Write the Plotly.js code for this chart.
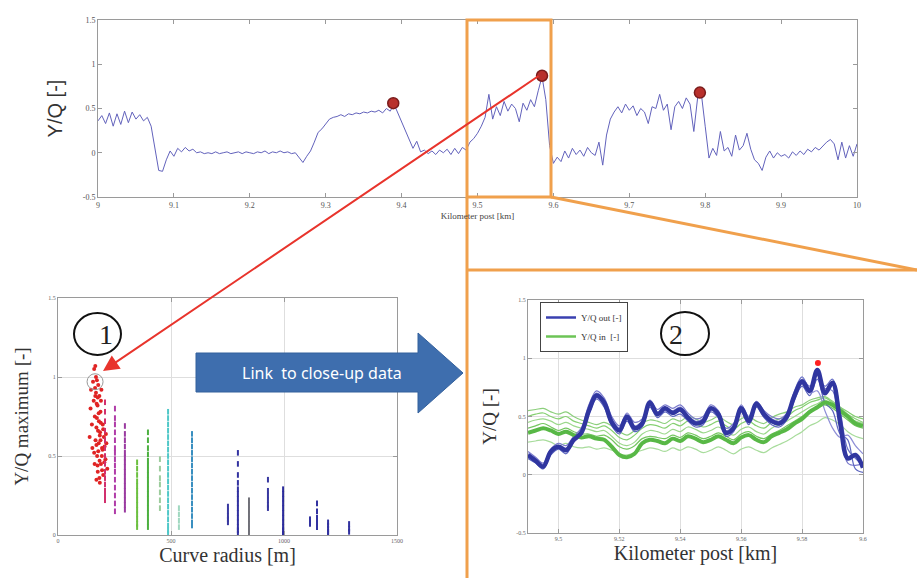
<!DOCTYPE html>
<html><head><meta charset="utf-8">
<script src="https://cdn.plot.ly/plotly-3.0.1.min.js"></script>
<style>html,body{margin:0;padding:0;background:#fff;}#chart{width:917px;height:578px;}</style>
</head><body><div id="chart"></div>
<script>
// ---------- DATA ----------
// Top panel: Y/Q along track
const topKm = [9.000,9.005,9.010,9.015,9.020,9.025,9.030,9.035,9.040,9.045,9.050,9.055,9.060,9.065,9.070,9.075,9.080,9.085,9.090,9.095,
9.100,9.105,9.110,9.115,9.120,9.125,9.130,9.135,9.140,9.145,9.150,9.155,9.160,9.165,9.170,9.175,9.180,9.185,9.190,9.195,
9.200,9.205,9.210,9.215,9.220,9.225,9.230,9.235,9.240,9.245,9.250,9.255,9.260,9.265,9.270,9.275,9.280,9.285,9.290,9.295,
9.300,9.305,9.310,9.315,9.320,9.325,9.330,9.335,9.340,9.345,9.350,9.355,9.360,9.365,9.370,9.375,9.380,9.385,9.390,9.395,
9.400,9.405,9.410,9.415,9.420,9.425,9.430,9.435,9.440,9.445,9.450,9.455,9.460,9.465,9.470,9.475,9.480,9.485,9.490,9.495,
9.500,9.505,9.510,9.515,9.520,9.525,9.530,9.535,9.540,9.545,9.550,9.555,9.560,9.565,9.570,9.575,9.580,9.585,9.590,9.595,
9.600,9.605,9.610,9.615,9.620,9.625,9.630,9.635,9.640,9.645,9.650,9.655,9.660,9.665,9.670,9.675,9.680,9.685,9.690,9.695,
9.700,9.705,9.710,9.715,9.720,9.725,9.730,9.735,9.740,9.745,9.750,9.755,9.760,9.765,9.770,9.775,9.780,9.785,9.790,9.795,
9.800,9.805,9.810,9.815,9.820,9.825,9.830,9.835,9.840,9.845,9.850,9.855,9.860,9.865,9.870,9.875,9.880,9.885,9.890,9.895,
9.900,9.905,9.910,9.915,9.920,9.925,9.930,9.935,9.940,9.945,9.950,9.955,9.960,9.965,9.970,9.975,9.980,9.985,9.990,9.995,10.000];
const topYQ = [0.36,0.42,0.33,0.45,0.30,0.44,0.32,0.47,0.34,0.46,0.38,0.43,0.36,0.40,0.30,0.05,-0.20,-0.21,-0.08,0.02,
-0.04,0.05,0.01,0.06,0.02,0.04,0.00,0.01,-0.01,0.00,-0.01,0.01,-0.01,0.00,0.01,-0.01,0.00,0.01,-0.01,0.01,
0.00,-0.01,0.01,0.00,0.02,-0.01,0.01,0.00,0.02,0.00,0.01,-0.01,0.00,-0.05,-0.11,-0.04,0.02,0.12,0.23,0.27,
0.33,0.38,0.40,0.41,0.43,0.41,0.44,0.43,0.45,0.44,0.46,0.45,0.47,0.46,0.48,0.45,0.50,0.47,0.55,0.45,
0.35,0.24,0.15,0.05,0.13,0.01,0.03,-0.01,0.02,-0.02,0.03,0.00,0.04,-0.02,0.05,-0.01,0.06,0.03,0.12,0.16,
0.22,0.30,0.40,0.66,0.38,0.52,0.42,0.58,0.47,0.55,0.50,0.35,0.56,0.48,0.60,0.52,0.70,0.86,0.60,0.08,
-0.12,-0.05,-0.10,0.02,-0.06,0.05,-0.02,0.03,-0.04,0.06,0.00,-0.03,0.12,-0.14,0.20,0.38,0.46,0.52,0.45,0.55,
0.48,0.53,0.42,0.50,0.46,0.33,0.52,0.50,0.66,0.48,0.55,0.26,0.52,0.58,0.50,0.62,0.55,0.24,0.62,0.66,
0.30,-0.06,0.05,-0.03,0.24,0.02,0.06,-0.04,0.20,0.03,0.08,0.22,0.04,-0.08,-0.12,-0.20,-0.05,0.02,-0.06,0.00,
-0.04,-0.02,-0.06,0.01,-0.03,0.02,-0.02,0.04,0.01,0.06,0.03,0.08,0.12,0.15,0.10,-0.08,0.12,-0.06,0.08,-0.04,0.10];
const topPeakKm = [9.389, 9.585, 9.793];
const topPeakYQ = [0.56, 0.87, 0.68];

// Bottom-left: Y/Q maximum vs curve radius
const redR = [140,144,146,150,152,155,158,160,162,163,165,166,168,170,170,172,173,175,176,178,180,181,183,185,186,188,190,192,195,198,200,203,206,210,214,218,160,165,170,175,180,185,190,195,200,168,172,178,184,188,194,164,171,177,183,189,197,205,212,176];
const redY = [0.62,0.80,0.92,0.70,0.55,0.97,0.85,1.05,0.45,0.75,1.07,0.60,0.90,0.35,0.68,0.98,0.50,0.82,0.40,0.95,0.58,0.72,0.88,0.33,0.65,0.78,0.45,0.92,0.55,0.70,0.38,0.62,0.56,0.48,0.58,0.42,0.52,0.88,0.57,0.44,0.77,0.63,0.85,0.41,0.67,1.00,0.74,0.53,0.47,0.60,0.50,0.93,0.83,0.66,0.36,0.71,0.54,0.46,0.64,0.87];
const stripR = [208,252,296,350,398,451,487,535,593,752,796,845,929,996,1115,1146,1195,1288];
const stripY = [
 [0.84,0.78,0.72,0.66,0.60,0.55,0.50,0.45,0.40,0.36,0.32,0.28,0.25,0.22],
 [0.80,0.74,0.70,0.65,0.60,0.55,0.52,0.48,0.44,0.40,0.35,0.30,0.25,0.20,0.15],
 [0.69,0.64,0.60,0.56,0.52,0.49,0.46,0.43,0.40,0.37,0.34,0.31,0.28,0.25,0.22,0.19,0.16],
 [0.46,0.42,0.38,0.34,0.31,0.28,0.25,0.22,0.19,0.16,0.13,0.10,0.07,0.05],
 [0.65,0.60,0.55,0.51,0.47,0.44,0.41,0.38,0.35,0.32,0.29,0.26,0.23,0.20,0.17,0.14,0.11,0.08,0.05],
 [0.48,0.42,0.36,0.32,0.27,0.22,0.17],
 [0.78,0.74,0.70,0.66,0.62,0.58,0.54,0.50,0.46,0.42,0.38,0.34,0.30,0.26,0.22,0.18,0.14,0.10,0.06,0.03,0.01],
 [0.17,0.13,0.09,0.05],
 [0.64,0.60,0.56,0.52,0.48,0.44,0.40,0.36,0.32,0.28,0.24,0.20,0.16,0.12,0.08,0.06],
 [0.18,0.15,0.12,0.10,0.08],
 [0.52,0.45,0.38,0.33,0.29,0.26,0.23,0.20,0.17,0.14,0.11,0.08,0.05,0.03,0.01],
 [0.22,0.19,0.16,0.13,0.10,0.07,0.04,0.01],
 [0.35,0.28,0.25,0.22,0.19,0.17],
 [0.29,0.26,0.23,0.20,0.17,0.14,0.11,0.08,0.05,0.03,0.01,0.0],
 [0.10,0.07],
 [0.20,0.15,0.11,0.08,0.05],
 [0.08,0.06,0.04,0.02,0.01],
 [0.07,0.04,0.02]
];
const highlightR = [164];
const highlightY = [0.97];

// Bottom-right: close-up
const closeKm = [9.4900,9.4925,9.4950,9.4975,9.5000,9.5025,9.5050,9.5075,9.5100,9.5125,9.5150,9.5175,9.5200,9.5225,9.5250,9.5275,9.5300,9.5325,9.5350,9.5375,9.5400,9.5425,9.5450,9.5475,9.5500,9.5525,9.5550,9.5575,9.5600,9.5625,9.5650,9.5675,9.5700,9.5725,9.5750,9.5775,9.5800,9.5825,9.5850,9.5875,9.5900,9.5925,9.5950,9.5975,9.6000];
const outMain = [0.17,0.12,0.07,0.20,0.24,0.21,0.30,0.36,0.55,0.68,0.62,0.45,0.38,0.50,0.40,0.44,0.62,0.52,0.57,0.53,0.56,0.49,0.44,0.46,0.57,0.52,0.36,0.40,0.57,0.46,0.61,0.52,0.46,0.44,0.50,0.68,0.80,0.72,0.90,0.70,0.79,0.45,0.14,0.17,0.06];
const outRuns = [
 [0.20,0.15,0.10,0.22,0.27,0.25,0.33,0.40,0.60,0.72,0.66,0.50,0.42,0.53,0.45,0.48,0.64,0.56,0.60,0.57,0.60,0.53,0.48,0.50,0.60,0.55,0.40,0.44,0.60,0.50,0.63,0.55,0.50,0.48,0.53,0.70,0.82,0.76,0.85,0.74,0.72,0.38,0.10,0.08,0.10],
 [0.14,0.10,0.05,0.17,0.22,0.18,0.28,0.34,0.52,0.65,0.58,0.42,0.35,0.46,0.37,0.41,0.58,0.49,0.54,0.50,0.52,0.46,0.41,0.43,0.54,0.49,0.33,0.37,0.54,0.43,0.58,0.49,0.43,0.41,0.47,0.64,0.76,0.68,0.82,0.62,0.55,0.35,0.30,0.05,0.02],
 [0.18,0.14,0.09,0.19,0.25,0.23,0.31,0.38,0.58,0.66,0.60,0.48,0.40,0.48,0.42,0.46,0.60,0.54,0.55,0.55,0.58,0.51,0.46,0.48,0.55,0.54,0.38,0.42,0.55,0.48,0.60,0.54,0.48,0.46,0.52,0.66,0.78,0.70,0.72,0.55,0.40,0.32,0.34,0.25,0.18],
 [0.16,0.11,0.06,0.21,0.23,0.20,0.29,0.35,0.56,0.70,0.64,0.47,0.39,0.51,0.41,0.43,0.63,0.51,0.58,0.52,0.57,0.48,0.45,0.45,0.58,0.51,0.37,0.39,0.58,0.45,0.62,0.51,0.45,0.43,0.49,0.72,0.84,0.74,0.86,0.76,0.82,0.55,0.22,0.14,0.08]
];
const inMain = [0.36,0.38,0.40,0.38,0.35,0.37,0.34,0.32,0.33,0.31,0.30,0.24,0.17,0.15,0.18,0.27,0.30,0.29,0.27,0.31,0.29,0.33,0.31,0.28,0.30,0.33,0.30,0.27,0.32,0.34,0.30,0.28,0.33,0.36,0.39,0.44,0.48,0.54,0.58,0.62,0.60,0.55,0.50,0.44,0.42];
const inRuns = [
 [0.50,0.52,0.53,0.50,0.48,0.50,0.46,0.44,0.42,0.40,0.42,0.38,0.32,0.30,0.34,0.40,0.43,0.42,0.40,0.44,0.42,0.46,0.44,0.41,0.43,0.46,0.42,0.39,0.44,0.46,0.42,0.40,0.45,0.48,0.50,0.55,0.58,0.62,0.64,0.66,0.62,0.58,0.54,0.50,0.48],
 [0.45,0.47,0.48,0.46,0.43,0.45,0.42,0.40,0.39,0.37,0.38,0.33,0.27,0.25,0.28,0.35,0.38,0.37,0.35,0.39,0.37,0.41,0.39,0.36,0.38,0.41,0.37,0.34,0.39,0.41,0.37,0.35,0.40,0.43,0.46,0.50,0.54,0.58,0.61,0.64,0.60,0.55,0.50,0.46,0.44],
 [0.40,0.42,0.44,0.41,0.38,0.40,0.37,0.35,0.35,0.33,0.34,0.30,0.24,0.22,0.25,0.31,0.33,0.32,0.31,0.34,0.32,0.36,0.34,0.31,0.33,0.36,0.33,0.30,0.35,0.37,0.33,0.31,0.35,0.38,0.42,0.46,0.50,0.55,0.57,0.60,0.57,0.52,0.47,0.42,0.40],
 [0.28,0.29,0.30,0.28,0.25,0.27,0.24,0.23,0.24,0.22,0.23,0.21,0.18,0.17,0.19,0.21,0.23,0.22,0.20,0.23,0.21,0.24,0.22,0.19,0.21,0.24,0.21,0.18,0.22,0.24,0.21,0.19,0.23,0.26,0.29,0.33,0.37,0.42,0.45,0.49,0.47,0.43,0.37,0.33,0.31],
 [0.55,0.56,0.57,0.54,0.52,0.54,0.50,0.47,0.45,0.43,0.45,0.42,0.37,0.34,0.38,0.44,0.47,0.46,0.44,0.48,0.46,0.50,0.48,0.45,0.47,0.50,0.46,0.43,0.48,0.50,0.46,0.44,0.49,0.52,0.54,0.58,0.60,0.64,0.66,0.67,0.63,0.58,0.52,0.48,0.45]
];
const closePeakKm = [9.5852];
const closePeakYQ = [0.96];

// ---------- STYLE / LAYOUT ----------
const W = 917, H = 578;
const px = x => x / W;
const py = y => 1 - y / H;
const serif = 'Liberation Serif, Times New Roman, serif';
const sans = 'Liberation Sans, Arial, sans-serif';
const stripColors = ['#d2306e','#b03ca8','#9a3aa0','#6cc040','#4cb040','#9ccc9c','#50c8c8','#a0d8c0','#3a8fc0','#3838a0','#3232a0','#707078','#3838a0','#2c2c9c','#3232a0','#3232a0','#3232a0','#3232a0'];
const outColors = ['#7a7acc','#5d66c0','#8e8ed6','#6a72c8'];
const inColors = ['#86d072','#9cd88c','#74c660','#a8dc9c','#8ccf7c'];

const traces = [];
traces.push({x: topKm, y: topYQ, xaxis:'x', yaxis:'y', mode:'lines', line:{color:'#6262bc', width:1}, showlegend:false, hoverinfo:'skip'});
traces.push({x: topPeakKm, y: topPeakYQ, xaxis:'x', yaxis:'y', mode:'markers', marker:{color:'#b8302c', size:11, line:{color:'#7a1c1c', width:1.5}}, showlegend:false});

traces.push({x: redR, y: redY, xaxis:'x2', yaxis:'y2', mode:'markers', marker:{symbol:'circle', size:4, color:'#e02424'}, showlegend:false});
stripR.forEach((r, i) => {
  traces.push({x: stripY[i].map(() => r), y: stripY[i], xaxis:'x2', yaxis:'y2', mode:'markers',
    marker:{symbol:'line-ns-open', size:4, color:stripColors[i], line:{color:stripColors[i], width:2}}, showlegend:false});
});
traces.push({x: highlightR, y: highlightY, xaxis:'x2', yaxis:'y2', mode:'markers', marker:{symbol:'circle-open', size:16, color:'#999', line:{width:1}}, showlegend:false});

inRuns.forEach((run, i) => traces.push({x: closeKm, y: run, xaxis:'x3', yaxis:'y3', mode:'lines', line:{color:inColors[i], width:1.2, shape:'spline'}, showlegend:false, hoverinfo:'skip'}));
outRuns.forEach((run, i) => traces.push({x: closeKm, y: run, xaxis:'x3', yaxis:'y3', mode:'lines', line:{color:outColors[i], width:1.2, shape:'spline'}, showlegend:false, hoverinfo:'skip'}));
traces.push({x: closeKm, y: inMain, xaxis:'x3', yaxis:'y3', mode:'lines', name:'Y/Q in  [-]', line:{color:'#58b846', width:4, shape:'spline'}, showlegend:false});
traces.push({x: closeKm, y: outMain, xaxis:'x3', yaxis:'y3', mode:'lines', name:'Y/Q out [-]', line:{color:'#3036a0', width:4.5, shape:'spline'}, showlegend:false});
traces.push({x: closePeakKm, y: closePeakYQ, xaxis:'x3', yaxis:'y3', mode:'markers', marker:{color:'#ff2020', size:6}, showlegend:false});
// legend entries
traces.push({x:[null], y:[null], xaxis:'x3', yaxis:'y3', mode:'lines', name:'Y/Q out [-]', line:{color:'#3a40b0', width:2.5}});
traces.push({x:[null], y:[null], xaxis:'x3', yaxis:'y3', mode:'lines', name:'Y/Q in  [-]', line:{color:'#6cc456', width:2.5}});

const axBase = {showline:true, mirror:'ticks', linecolor:'#9a9a9a', linewidth:1, ticks:'inside', ticklen:4, tickcolor:'#9a9a9a',
  zeroline:false, tickfont:{family:serif, size:8, color:'#555'}, fixedrange:true};

const layout = {
  width: W, height: H, margin:{l:0, r:0, t:0, b:0}, paper_bgcolor:'#fff', plot_bgcolor:'#fff',
  showlegend:true,
  legend:{x:px(540), y:py(302), xanchor:'left', yanchor:'top', bgcolor:'#fff', bordercolor:'#444', borderwidth:1,
    font:{family:serif, size:9, color:'#333'}, itemwidth:30, tracegroupgap:0},
  xaxis: Object.assign({}, axBase, {domain:[px(98), px(857)], range:[9,10], tickvals:[9,9.1,9.2,9.3,9.4,9.5,9.6,9.7,9.8,9.9,10],
    ticktext:['9','9.1','9.2','9.3','9.4','9.5','9.6','9.7','9.8','9.9','10'], anchor:'y', showgrid:false,
    title:{text:'Kilometer post [km]', font:{family:serif, size:9, color:'#444'}, standoff:4}}),
  yaxis: Object.assign({}, axBase, {domain:[py(197), py(20)], range:[-0.5,1.5], tickvals:[-0.5,0,0.5,1,1.5], ticktext:['-0.5','0','0.5','1','1.5'],
    anchor:'x', showgrid:false, title:{text:'Y/Q [-]', font:{family:sans, size:20, color:'#333'}, standoff:14}}),
  xaxis2: Object.assign({}, axBase, {domain:[px(58), px(397)], range:[0,1500], tickvals:[0,500,1000,1500], ticktext:['0','500','1000','1500'],
    anchor:'y2', showgrid:true, gridcolor:'#dedede', tickfont:{family:serif, size:6, color:'#666'},
    title:{text:'Curve radius [m]', font:{family:serif, size:20, color:'#333'}, standoff:4}}),
  yaxis2: Object.assign({}, axBase, {domain:[py(535), py(298)], range:[0,1.5], tickvals:[0,0.5,1,1.5], ticktext:['0','0.5','1','1.5'],
    anchor:'x2', showgrid:true, gridcolor:'#dedede', tickfont:{family:serif, size:6, color:'#666'},
    title:{text:'Y/Q maximum [-]', font:{family:serif, size:19, color:'#333'}, standoff:14}}),
  xaxis3: Object.assign({}, axBase, {domain:[px(528), px(863)], range:[9.49,9.6], tickvals:[9.5,9.52,9.54,9.56,9.58,9.6], ticktext:['9.5','9.52','9.54','9.56','9.58','9.6'],
    anchor:'y3', showgrid:true, gridcolor:'#dedede', tickfont:{family:serif, size:6, color:'#666'},
    title:{text:'Kilometer post [km]', font:{family:serif, size:20, color:'#333'}, standoff:4}}),
  yaxis3: Object.assign({}, axBase, {domain:[py(533), py(300)], range:[-0.5,1.5], tickvals:[-0.5,0,0.5,1,1.5], ticktext:['-0.5','0','0.5','1','1.5'],
    anchor:'x3', showgrid:true, gridcolor:'#dedede', tickfont:{family:serif, size:6, color:'#666'},
    title:{text:'Y/Q [-]', font:{family:serif, size:19, color:'#333'}, standoff:14}}),
  shapes: [
    {type:'rect', xref:'paper', yref:'paper', x0:px(467), x1:px(551), y0:py(197), y1:py(20), line:{color:'#f0a04c', width:3}},
    {type:'line', xref:'paper', yref:'paper', x0:px(467), x1:px(467), y0:py(197), y1:py(578), line:{color:'#f0a04c', width:3}},
    {type:'line', xref:'paper', yref:'paper', x0:px(467), x1:px(917), y0:py(270), y1:py(270), line:{color:'#f0a04c', width:3}},
    {type:'line', xref:'paper', yref:'paper', x0:px(551), x1:px(917), y0:py(197), y1:py(270), line:{color:'#f0a04c', width:3}},
    {type:'path', xref:'paper', yref:'paper', fillcolor:'#3e6eae', line:{color:'#33609c', width:1},
      path:`M${px(196)},${py(353)} L${px(418)},${py(353)} L${px(418)},${py(333)} L${px(463)},${py(373)} L${px(418)},${py(413)} L${px(418)},${py(392)} L${px(196)},${py(392)} Z`},
    {type:'circle', xref:'paper', yref:'paper', x0:px(74), x1:px(121), y0:py(355), y1:py(313), line:{color:'#111', width:2}},
    {type:'circle', xref:'paper', yref:'paper', x0:px(661), x1:px(709), y0:py(355), y1:py(312), line:{color:'#111', width:2}}
  ],
  annotations: [
    {xref:'paper', yref:'paper', x:px(322), y:py(373), text:'Link  to close-up data', showarrow:false, font:{family:'Noto Sans, Open Sans, sans-serif', size:16, color:'#fff'}},
    {xref:'paper', yref:'paper', x:px(97), y:py(334), text:'1', showarrow:false, font:{family:serif, size:28, color:'#222'}},
    {xref:'paper', yref:'paper', x:px(685), y:py(334), text:'2', showarrow:false, font:{family:serif, size:28, color:'#222'}},
    {xref:'paper', yref:'paper', x:px(103), y:py(371), text:'', showarrow:true, axref:'pixel', ayref:'pixel', ax:437, ay:-296,
      arrowcolor:'#e8342c', arrowwidth:2, arrowhead:2, arrowsize:1.6, standoff:0, startstandoff:0}
  ]
};

Plotly.newPlot('chart', traces, layout, {staticPlot:true, displayModeBar:false});
</script></body></html>
